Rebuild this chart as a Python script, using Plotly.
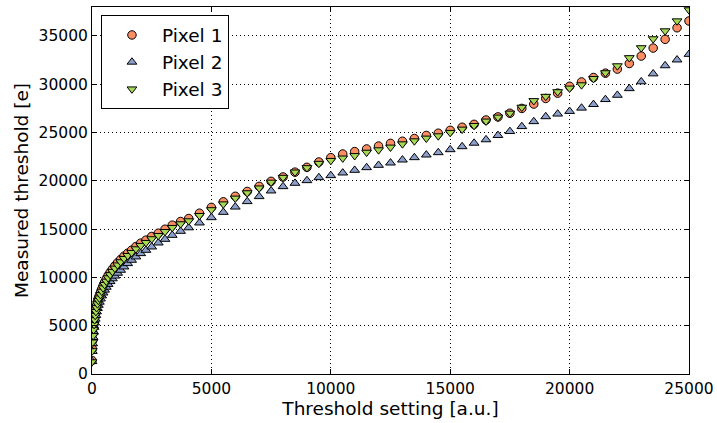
import plotly.graph_objects as go

threshold_setting = [
    0, 14, 30, 47, 66, 87, 110, 135, 163, 194, 229, 267, 309, 356, 408, 465,
    528, 598, 675, 760, 854, 958, 1073, 1200, 1340, 1495, 1660, 1840, 2040,
    2260, 2500, 2777, 3057, 3360, 3710, 4050, 4500, 5000, 5500,
    6000, 6500, 7000, 7500, 8000, 8500, 9000, 9500, 10000, 10500, 11000,
    11500, 12000, 12500, 13000, 13500, 14000, 14500, 15000, 15500, 16000,
    16500, 17000, 17500, 18000, 18500, 19000, 19500, 20000, 20500, 21000,
    21500, 22000, 22500, 23000, 23500, 24000, 24500, 25000,
]

pixel1 = [
    1400, 2600, 3500, 4200, 4800, 5350, 5850, 6300, 6700, 7100, 7500, 7850,
    8100, 8450, 8800, 9150, 9500, 9850, 10200, 10530, 10860, 11200, 11530,
    11860, 12200, 12510, 12820, 13200, 13550, 13860, 14240, 14580, 14990,
    15410, 15790, 16100, 16650, 17250, 17830,
    18400, 18900, 19430, 19950, 20400, 20900, 21400, 21950, 22400, 22780,
    23030, 23300, 23600, 23880, 24100, 24380, 24700, 24930, 25230, 25550,
    25850, 26300, 26620, 27000, 27500, 27950, 28530, 29080, 29790, 30240,
    30700, 31150, 31570, 32150, 32920, 33750, 34650, 35850, 36550,
]

pixel2 = [
    1300, 2350, 3150, 3800, 4350, 4850, 5300, 5700, 6080, 6450, 6800, 7130,
    7450, 7780, 8100, 8400, 8700, 9000, 9290, 9580, 9870, 10150, 10450,
    10754, 11099, 11443, 11788, 12133, 12477, 12822, 13166, 13579, 13958,
    14372, 14786, 15150, 15650, 16200, 16750,
    17300, 17863, 18380, 18966, 19414, 19759, 20034, 20345, 20552, 20827,
    21103, 21379, 21620, 21861, 22172, 22413, 22689, 22930, 23240, 23550,
    23910, 24266, 24710, 25119, 25631, 26143, 26655, 26928, 27201, 27543,
    27918, 28430, 28874, 29560, 30270, 31090, 31930, 32530, 33110,
]

pixel3 = [
    1250, 2400, 3300, 3980, 4580, 5120, 5610, 6060, 6460, 6860, 7260, 7610,
    7860, 8210, 8560, 8910, 9260, 9600, 9950, 10280, 10610, 10950, 11280,
    11610, 11950, 12260, 12570, 12950, 13300, 13610, 13990, 14330, 14740,
    15160, 15540, 15850, 16400, 17000, 17600,
    18200, 18750, 19250, 19850, 20350, 20900, 21350, 21800, 22100, 22350,
    22600, 22950, 23200, 23480, 23820, 24130, 24410, 24650, 25000, 25340,
    25720, 26177, 26587, 26997, 27611, 28294, 28737, 29215, 29590, 29932,
    30580, 31180, 31900, 32740, 33770, 34700, 35520, 36550, 37700,
]

x_ticks = [0, 5000, 10000, 15000, 20000, 25000]
y_ticks = [0, 5000, 10000, 15000, 20000, 25000, 30000, 35000]

series = [
    ("Pixel 1", pixel1, "circle", "#fc8d62"),
    ("Pixel 2", pixel2, "triangle-up", "#8da0cb"),
    ("Pixel 3", pixel3, "triangle-down", "#a6d854"),
]

font_family = "DejaVu Sans"

fig = go.Figure()
for name, vals, sym, col in series:
    fig.add_trace(go.Scatter(
        x=threshold_setting, y=vals, mode="markers", name=name,
        marker=dict(symbol=sym, size=8.5, color=col,
                    line=dict(color="black", width=1)),
        cliponaxis=True,
    ))

axis_common = dict(
    showline=True, linecolor="black", linewidth=1, mirror="ticks",
    ticks="inside", ticklen=5, tickcolor="black", tickwidth=1,
    showgrid=True, gridcolor="black", gridwidth=1, griddash="1px,3px",
    zeroline=False, tickfont=dict(family=font_family, size=15.5, color="black"),
)

fig.update_xaxes(
    range=[0, 25000], tickvals=x_ticks, ticktext=[str(v) for v in x_ticks],
    title=dict(text="Threshold setting [a.u.]",
               font=dict(family=font_family, size=18.5, color="black"),
               standoff=4),
    **axis_common,
)
fig.update_yaxes(
    range=[0, 38000], tickvals=y_ticks, ticktext=[str(v) for v in y_ticks],
    title=dict(text="Measured threshold [e]",
               font=dict(family=font_family, size=18.5, color="black"),
               standoff=5),
    **axis_common,
)

fig.update_layout(
    width=717, height=423,
    margin=dict(l=92, r=28, t=7, b=49, autoexpand=False),
    paper_bgcolor="white", plot_bgcolor="white",
    font=dict(family=font_family, color="black"),
    showlegend=True,
    legend=dict(
        x=0.015, y=0.977, xanchor="left", yanchor="top",
        bgcolor="white", bordercolor="black", borderwidth=1,
        font=dict(family=font_family, size=18.5, color="black"),
        itemwidth=50,
    ),
)

fig.write_html("out.html",
               config={"displayModeBar": False},
               post_script="document.body.style.margin='0';document.body.style.padding='0';")
